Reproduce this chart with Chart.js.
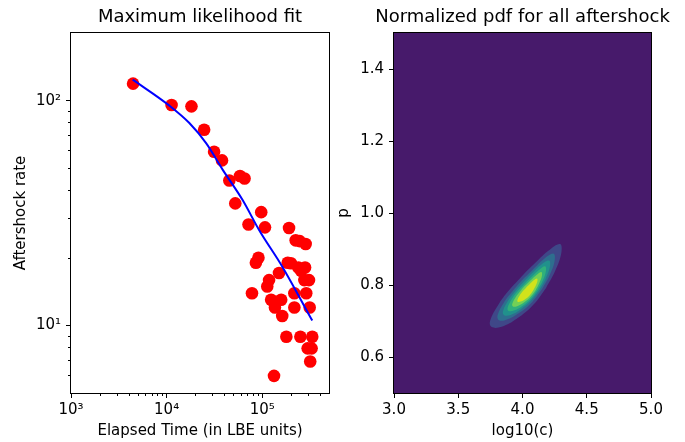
<!DOCTYPE html>
<html>
<head>
<meta charset="utf-8">
<script src="https://cdn.jsdelivr.net/npm/chart.js@4.4.1/dist/chart.umd.min.js"></script>
<style>
  html, body { margin: 0; padding: 0; background: #fff; overflow: hidden; width: 685px; height: 442px; }
  canvas { position: absolute; top: 0; }
  #fit { left: 0; }
  #pdf { left: 330px; }
</style>
</head>
<body>
<canvas id="fit" width="400" height="442"></canvas>
<canvas id="pdf" width="385" height="442"></canvas>
<script>
// Aftershock fit + parameter pdf

Chart.defaults.font.family = '"DejaVu Sans", sans-serif'
Chart.defaults.color = '#000'
Chart.defaults.animation = false

// ---------------------- data: left panel ----------------------

const elapsed = [4460, 11270, 18200, 24700, 31400, 38000, 45300, 58600, 65400, 52300,
                 97700, 71900, 107000, 191000, 224000, 247000, 285000, 91400, 85900, 185000,
                 200000, 239000, 281000, 255000, 150000, 309000, 276000, 118000, 113000, 78200,
                 217000, 289000, 124000, 158000, 136000, 217000, 314000, 162000, 179000, 251000,
                 334000, 299000, 329000, 318000, 133000]
const rate = [119, 95.7, 94.3, 74.2, 59.2, 54.2, 44.1, 46.2, 45, 34.9,
              31.9, 28.1, 27.3, 27.1, 23.9, 23.7, 23.0, 20.0, 19.0, 19.0,
              18.9, 18.1, 18.1, 17.5, 17.1, 15.9, 15.9, 15.9, 14.9, 13.9,
              13.9, 13.9, 13.0, 13.0, 12.0, 12.0, 12.0, 11.0, 8.9, 8.9,
              8.9, 7.9, 7.9, 6.9, 5.96]

const fitTime = [4420, 10700, 17300, 25900, 38700, 62400, 93100, 163000, 334000]
const fitRate = [124, 95, 79.5, 64.7, 49.2, 36.1, 26.5, 18.2, 10.5]

const timeTicks = [1e3, 1e4, 1e5]
const timeTickLabels = ['10³', '10⁴', '10⁵']
const timeMinor = [2e3, 3e3, 4e3, 5e3, 6e3, 7e3, 8e3, 9e3,
                   2e4, 3e4, 4e4, 5e4, 6e4, 7e4, 8e4, 9e4,
                   2e5, 3e5, 4e5]
const rateTicks = [10, 100]
const rateTickLabels = ['10¹', '10²']
const rateMinor = [6, 7, 8, 9, 20, 30, 40, 50, 60, 70, 80, 90]

// ---------------------- data: right panel ----------------------

const cTicks = [3.0, 3.5, 4.0, 4.5, 5.0]
const cTickLabels = ['3.0', '3.5', '4.0', '4.5', '5.0']
const pTicks = [0.6, 0.8, 1.0, 1.2, 1.4]
const pTickLabels = ['0.6', '0.8', '1.0', '1.2', '1.4']

// contour outlines [log10(c), p], outermost first
const level1 = [[4.183, 0.792], [4.084, 0.745], [3.955, 0.706], [3.838, 0.684], [3.760, 0.683],
                [3.747, 0.699], [3.812, 0.745], [3.890, 0.783], [3.981, 0.819], [4.084, 0.856],
                [4.201, 0.895], [4.292, 0.914], [4.302, 0.889], [4.253, 0.838]]
const level2 = [[4.155, 0.790], [4.076, 0.753], [3.973, 0.722], [3.879, 0.704], [3.817, 0.702],
                [3.806, 0.716], [3.858, 0.753], [3.921, 0.782], [3.993, 0.812], [4.076, 0.841],
                [4.169, 0.873], [4.242, 0.887], [4.250, 0.867], [4.211, 0.827]]
const level3 = [[4.135, 0.788], [4.070, 0.758], [3.985, 0.732], [3.908, 0.717], [3.857, 0.716],
                [3.848, 0.727], [3.891, 0.758], [3.942, 0.782], [4.002, 0.806], [4.070, 0.831],
                [4.147, 0.857], [4.207, 0.868], [4.214, 0.852], [4.182, 0.819]]
const level4 = [[4.118, 0.787], [4.065, 0.762], [3.996, 0.741], [3.933, 0.729], [3.892, 0.728],
                [3.884, 0.737], [3.919, 0.762], [3.961, 0.782], [4.010, 0.801], [4.065, 0.821],
                [4.128, 0.842], [4.176, 0.852], [4.182, 0.838], [4.156, 0.811]]
const level5 = [[4.101, 0.785], [4.060, 0.766], [4.006, 0.750], [3.958, 0.741], [3.926, 0.740],
                [3.920, 0.747], [3.947, 0.766], [3.979, 0.781], [4.017, 0.797], [4.060, 0.812],
                [4.109, 0.828], [4.147, 0.836], [4.151, 0.825], [4.130, 0.805]]
const level6 = [[4.082, 0.784], [4.055, 0.771], [4.018, 0.760], [3.985, 0.754], [3.964, 0.753],
                [3.960, 0.758], [3.978, 0.771], [4.000, 0.782], [4.026, 0.792], [4.055, 0.802],
                [4.087, 0.813], [4.113, 0.818], [4.116, 0.811], [4.102, 0.797]]

const levels = [level1, level2, level3, level4, level5, level6]
const levelColors = ['#3f4788', '#2e6e8e', '#21918c', '#30b07b', '#73d056', '#d2e21b']

// ---------------------- helpers ----------------------

// full box around the axes, optional background and short minor ticks
function frame(bg, minor) {
    return {
        id: 'frame',
        beforeDatasetsDraw(chart) {
            if (!bg) return
            const { ctx, chartArea: a } = chart
            ctx.save()
            ctx.fillStyle = bg
            ctx.fillRect(a.left, a.top, a.right - a.left, a.bottom - a.top)
            ctx.restore()
        },
        afterDraw(chart) {
            const { ctx, chartArea: a } = chart
            ctx.save()
            ctx.strokeStyle = '#000'
            ctx.lineWidth = 1
            for (const [id, vals] of Object.entries(minor || {})) {
                const s = chart.scales[id]
                ctx.beginPath()
                for (const v of vals) {
                    const p = Math.round(s.getPixelForValue(v)) + 0.5
                    if (s.isHorizontal()) { ctx.moveTo(p, a.bottom); ctx.lineTo(p, a.bottom + 3) }
                    else { ctx.moveTo(a.left, p); ctx.lineTo(a.left - 3, p) }
                }
                ctx.stroke()
            }
            ctx.strokeRect(Math.round(a.left) - 0.5, Math.round(a.top) - 0.5,
                           Math.round(a.right - a.left) + 1, Math.round(a.bottom - a.top) + 1)
            ctx.restore()
        }
    }
}

const gridOpts = { drawOnChartArea: false, color: '#000', tickLength: 5 }

function axisTitle(text, pad) {
    return { display: true, text: text, font: { size: 15 }, padding: pad }
}

function chartTitle(text) {
    return { display: true, text: text, color: '#000',
             font: { size: 18, weight: 'normal' }, padding: { top: 7, bottom: 4.4 } }
}

// invisible axis on the right so the title stays centred over the plot
function spacer(w) {
    return { position: 'right', display: true, ticks: { display: false },
             grid: { display: false }, border: { display: false },
             afterFit: s => { s.width = w } }
}

// ---------------------- left: maximum likelihood fit ----------------------

new Chart(document.getElementById('fit'), {
    type: 'scatter',
    data: {
        datasets: [
            {
                label: 'fit',
                data: fitTime.map((t, i) => ({ x: t, y: fitRate[i] })),
                showLine: true,
                borderColor: '#0000ff',
                borderWidth: 2,
                pointRadius: 0,
                cubicInterpolationMode: 'monotone',
                order: 0,
            },
            {
                label: 'aftershocks',
                data: elapsed.map((t, i) => ({ x: t, y: rate[i] })),
                backgroundColor: '#ff0000',
                borderColor: '#ff0000',
                borderWidth: 0,
                pointRadius: 6.3,
                order: 1,
            },
        ]
    },
    options: {
        responsive: false,
        layout: { padding: 0 },
        plugins: {
            legend: { display: false },
            tooltip: { enabled: false },
            title: chartTitle('Maximum likelihood fit'),
        },
        scales: {
            x: {
                type: 'logarithmic', position: 'bottom', min: 1e3, max: 5e5,
                afterBuildTicks: s => { s.ticks = timeTicks.map(v => ({ value: v })) },
                afterFit: s => { s.height = 49 },
                ticks: { callback: (v, i) => timeTickLabels[i], autoSkip: false, maxRotation: 0,
                         padding: 3, font: { size: 15 } },
                grid: gridOpts,
                border: { display: false },
                title: axisTitle('Elapsed Time (in LBE units)', { top: 0, bottom: 2 }),
            },
            y: {
                type: 'logarithmic', position: 'left', min: 5, max: 200,
                afterBuildTicks: s => { s.ticks = rateTicks.map(v => ({ value: v })) },
                afterFit: s => { s.width = 71 },
                ticks: { callback: (v, i) => rateTickLabels[i], autoSkip: false,
                         padding: 5, font: { size: 15 } },
                grid: gridOpts,
                border: { display: false },
                title: axisTitle('Aftershock rate', { top: 12, bottom: 0 }),
            },
            pad: spacer(71),
        }
    },
    plugins: [frame(null, { x: timeMinor, y: rateMinor })]
})

// ---------------------- right: normalized pdf ----------------------

new Chart(document.getElementById('pdf'), {
    type: 'scatter',
    data: {
        datasets: levels.map((pts, i) => ({
            label: 'level ' + (i + 1),
            data: pts.concat([pts[0]]).map(([c, p]) => ({ x: c, y: p })),
            showLine: true,
            fill: 'shape',
            tension: 0.4,
            backgroundColor: levelColors[i],
            borderColor: levelColors[i],
            borderWidth: 0,
            pointRadius: 0,
            order: levels.length - i,
        }))
    },
    options: {
        responsive: false,
        layout: { padding: 0 },
        plugins: {
            legend: { display: false },
            tooltip: { enabled: false },
            title: chartTitle('Normalized pdf for all aftershock'),
        },
        scales: {
            x: {
                type: 'linear', position: 'bottom', min: 3, max: 5,
                afterBuildTicks: s => { s.ticks = cTicks.map(v => ({ value: v })) },
                afterFit: s => { s.height = 49 },
                ticks: { callback: (v, i) => cTickLabels[i], autoSkip: false, maxRotation: 0,
                         padding: 3, font: { size: 15 } },
                grid: gridOpts,
                border: { display: false },
                title: axisTitle('log10(c)', { top: 0, bottom: 2 }),
            },
            y: {
                type: 'linear', position: 'left', min: 0.5, max: 1.5,
                afterBuildTicks: s => { s.ticks = pTicks.map(v => ({ value: v })) },
                afterFit: s => { s.width = 64 },
                ticks: { callback: (v, i) => pTickLabels[i], autoSkip: false,
                         padding: 5, font: { size: 15 } },
                grid: gridOpts,
                border: { display: false },
                title: axisTitle('p', { top: 5, bottom: 0 }),
            },
            pad: spacer(64),
        }
    },
    plugins: [frame('#471a6b', null)]
})
</script>
</body>
</html>
